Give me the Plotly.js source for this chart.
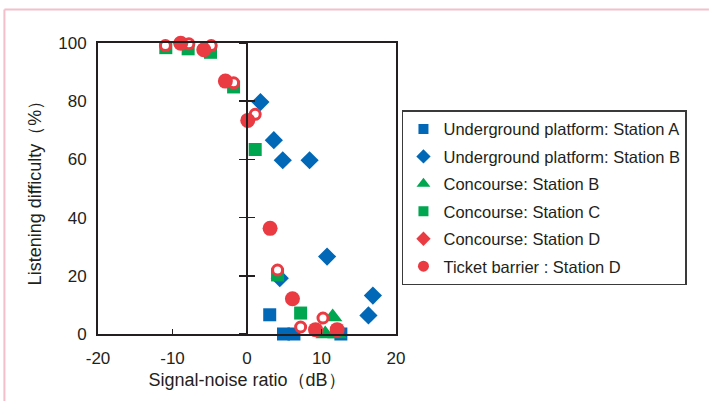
<!DOCTYPE html>
<html>
<head>
<meta charset="utf-8">
<script src="https://cdn.plot.ly/plotly-3.0.1.min.js"></script>
<style>html,body{margin:0;padding:0;background:#fff;}#chart{width:709px;height:401px;}</style>
</head>
<body>
<div id="chart"></div>
<script>
// Underground platform: Station A
const ugA_x = [3.05, 4.9, 6.3, 12.6];
const ugA_y = [6.6, 0, 0, 0];
// Underground platform: Station B
const ugB_x = [1.8, 3.6, 4.8, 8.4, 10.75, 4.4, 16.9, 16.3];
const ugB_y = [79.7, 66.6, 59.7, 59.7, 26.6, 19.2, 13.2, 6.4];
// Concourse: Station B
const coB_x = [11.5, 10.5, 12.1];
const coB_y = [5.8, 0, 0];
// Concourse: Station C
const coC_x = [-10.9, -7.9, -4.9, -1.8, 1.1, 4.1, 7.2];
const coC_y = [98.4, 98.0, 96.8, 84.9, 63.4, 20.3, 7.2];
// Concourse: Station D
const coD_x = [-10.95, -7.8, -4.8, -1.8, 1.1, 4.1, 7.2, 10.2];
const coD_y = [99.1, 99.7, 99.1, 86.3, 75.5, 22.0, 2.4, 5.5];
// Ticket barrier : Station D
const tbD_x = [-8.9, -5.8, -2.9, 0.1, 3.1, 6.1, 9.2, 12.1];
const tbD_y = [99.9, 97.7, 86.9, 73.4, 36.3, 12.1, 1.5, 1.5];

const names = ['Underground platform: Station A', 'Underground platform: Station B',
  'Concourse: Station B', 'Concourse: Station C', 'Concourse: Station D', 'Ticket barrier : Station D'];
const xTicks = [-20, -10, 0, 10, 20];
const yTicks = [0, 20, 40, 60, 80, 100];

const BLUE = '#0068b7', GREEN = '#00a650', RED = '#ea3a42';
const INK = '#231f20';

function pts(x, y, name, marker) {
  return {type: 'scatter', mode: 'markers', x: x, y: y, name: name,
    cliponaxis: false, showlegend: false, marker: marker};
}
function leg(name, sym, color, size) {
  return {type: 'scatter', mode: 'markers', x: [null], y: [null], name: name,
    legendgroup: name, showlegend: true, marker: {symbol: sym, color: color, size: size, line: {width: 0}}};
}

const data = [
  pts(ugA_x, ugA_y, names[0], {symbol: 'square', color: BLUE, size: 13, line: {width: 0}}),
  pts(ugB_x, ugB_y, names[1], {symbol: 'diamond', color: BLUE, size: 14, line: {width: 0}}),
  pts(coB_x, coB_y, names[2], {symbol: 'triangle-up', color: GREEN, size: 17, line: {width: 0}}),
  pts(coC_x, coC_y, names[3], {symbol: 'square', color: GREEN, size: 13, line: {width: 0}}),
  pts(coD_x, coD_y, names[4], {symbol: 'circle', color: '#ffffff', size: 10, line: {width: 3, color: RED}}),
  pts(tbD_x, tbD_y, names[5], {symbol: 'circle', color: RED, size: 15, line: {width: 0}}),
  leg(names[0], 'square', BLUE, 10),
  leg(names[1], 'diamond', BLUE, 11),
  leg(names[2], 'triangle-up', GREEN, 12),
  leg(names[3], 'square', GREEN, 10),
  leg(names[4], 'diamond', RED, 11),
  leg(names[5], 'circle', RED, 11)
];

const tickFont = {family: 'Liberation Sans, Arial, sans-serif', size: 17, color: INK};
const titleFont = {family: 'Liberation Sans, Arial, sans-serif', size: 18, color: INK};

const layout = {
  width: 709, height: 401,
  margin: {l: 98, r: 313, t: 42.5, b: 66.7},
  paper_bgcolor: '#ffffff', plot_bgcolor: '#ffffff',
  showlegend: true,
  font: tickFont,
  xaxis: {
    range: [-20, 20], tickvals: xTicks, ticktext: xTicks.map(String),
    ticks: 'inside', ticklen: 5, tickwidth: 1.5, tickcolor: INK,
    showline: true, linecolor: INK, linewidth: 2, mirror: true,
    showgrid: false, zeroline: false, tickfont: tickFont, ticklabelstandoff: 8,
    title: {text: 'Signal-noise ratio（dB）', font: titleFont, standoff: 6}
  },
  yaxis: {
    range: [0, 100], tickvals: yTicks, ticktext: yTicks.map(String),
    ticks: '', showline: true, linecolor: INK, linewidth: 2, mirror: true,
    showgrid: false, zeroline: false, tickfont: tickFont, ticklabelstandoff: 6,
    title: {text: 'Listening difficulty（%）', font: titleFont, standoff: 12}
  },
  yaxis2: {
    overlaying: 'y', anchor: 'free', position: 0.5, range: [0, 100], tickvals: yTicks,
    ticks: 'outside', ticklen: 7, tickwidth: 1.5, tickcolor: INK,
    showline: true, linecolor: INK, linewidth: 2, showticklabels: false,
    showgrid: false, zeroline: false
  },
  yaxis3: {
    overlaying: 'y', anchor: 'free', position: 0.5, range: [0, 100], tickvals: yTicks,
    ticks: 'inside', ticklen: 7, tickwidth: 1.5, tickcolor: INK,
    showline: false, showticklabels: false, showgrid: false, zeroline: false
  },
  legend: {
    x: 1.02, y: 0.769, xanchor: 'left', yanchor: 'top',
    bordercolor: '#3a3a3a', borderwidth: 1.5, bgcolor: '#ffffff',
    font: {family: 'Liberation Sans, Arial, sans-serif', size: 16.5, color: INK},
    itemsizing: 'trace', tracegroupgap: 3, itemwidth: 30
  },
  shapes: [
    {type: 'line', xref: 'paper', yref: 'paper', x0: -0.314, x1: 2.05, y0: 1.115, y1: 1.115,
     line: {color: '#f2bfcb', width: 2}},
    {type: 'line', xref: 'paper', yref: 'paper', x0: -0.314, x1: -0.314, y0: 1.115, y1: -0.25,
     line: {color: '#f2bfcb', width: 2}}
  ]
};

data.push({type: 'scatter', x: [null], y: [null], yaxis: 'y2', showlegend: false, hoverinfo: 'skip'});
data.push({type: 'scatter', x: [null], y: [null], yaxis: 'y3', showlegend: false, hoverinfo: 'skip'});

Plotly.newPlot('chart', data, layout, {displayModeBar: false, staticPlot: true});
</script>
</body>
</html>
